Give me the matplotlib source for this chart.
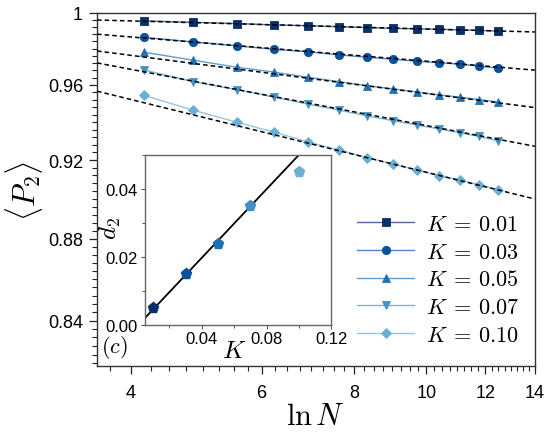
import matplotlib
matplotlib.use("Agg")
import matplotlib.pyplot as plt
import matplotlib.colors as mcolors
import numpy as np
from matplotlib.ticker import FixedLocator, FuncFormatter, NullFormatter

plt.rcParams['font.family'] = ['Liberation Sans', 'DejaVu Sans']
plt.rcParams['mathtext.fontset'] = 'cm'

# ln N of the simulated sizes
ln_n = [4.16, 4.85, 5.55, 6.24, 6.93, 7.62, 8.32, 9.01, 9.70, 10.40, 11.09, 11.78, 12.48]

k_values = [0.01, 0.03, 0.05, 0.07, 0.10]
k_labels = ['0.01', '0.03', '0.05', '0.07', '0.10']

p2_k001 = [0.9955, 0.9947, 0.9940, 0.9932, 0.9928, 0.9922, 0.9917, 0.9913, 0.9910, 0.9908, 0.9904, 0.9902, 0.9897]
p2_k003 = [0.9863, 0.9837, 0.9815, 0.9796, 0.9782, 0.9765, 0.9752, 0.9741, 0.9730, 0.9722, 0.9714, 0.9703, 0.9692]
p2_k005 = [0.9780, 0.9736, 0.9697, 0.9670, 0.9642, 0.9618, 0.9596, 0.9579, 0.9562, 0.9546, 0.9534, 0.9521, 0.9508]
p2_k007 = [0.9682, 0.9618, 0.9575, 0.9534, 0.9496, 0.9465, 0.9433, 0.9408, 0.9385, 0.9364, 0.9344, 0.9324, 0.9301]
p2_k010 = [0.9544, 0.9464, 0.9400, 0.9346, 0.9295, 0.9253, 0.9213, 0.9179, 0.9149, 0.9119, 0.9097, 0.9072, 0.9047]
p2_all = [p2_k001, p2_k003, p2_k005, p2_k007, p2_k010]

# power-law fits <P2> = A (ln N)^(-d2)
fit_amp = [1.0024, 1.0072, 1.0087, 1.0164, 1.0134]
d2 = [0.0050, 0.0150, 0.0236, 0.0348, 0.0450]

# linear fit of d2 vs K (inset)
d2_slope = 0.506
d2_icpt = -0.0006

colors = ['#08306b', '#08519c', '#2171b5', '#4292c6', '#6baed6']
markers = ['s', 'o', '^', 'v', 'D']
msizes = [5.5, 6, 6, 6, 5]


def lighten(c, f=0.7):
    r, g, b = mcolors.to_rgb(c)
    return (r * f + (1 - f), g * f + (1 - f), b * f + (1 - f))


fig = plt.figure(figsize=(5.48, 4.35), dpi=100)
ax = fig.add_axes([0.177, 0.156, 0.799, 0.812])

ax.set_xscale('log')
ax.set_yscale('log')
ax.set_xlim(3.6, 14)
ax.set_ylim(0.8186, 1.0)

x_fit = np.geomspace(3.6, 14, 60)
for i in range(5):
    ax.plot(ln_n, p2_all[i], color=lighten(colors[i]), lw=1.0,
            marker=markers[i], ms=msizes[i], mfc=colors[i], mec=colors[i],
            mew=0.6, label=r'$K\:=\:%s$' % k_labels[i], zorder=2)
    ax.plot(x_fit, fit_amp[i] * x_fit ** (-d2[i]), color='black', lw=1.1,
            dashes=(3, 2), zorder=3)

ax.xaxis.set_major_locator(FixedLocator([4, 6, 8, 10, 12, 14]))
ax.xaxis.set_minor_locator(FixedLocator(np.arange(3.75, 14.01, 0.25)))
ax.xaxis.set_major_formatter(FuncFormatter(lambda v, p: '%d' % round(v)))
ax.xaxis.set_minor_formatter(NullFormatter())

ax.yaxis.set_major_locator(FixedLocator([0.84, 0.88, 0.92, 0.96, 1.0]))
ax.yaxis.set_minor_locator(FixedLocator(np.arange(0.82, 1.0001, 0.004)))
ax.yaxis.set_major_formatter(FuncFormatter(lambda v, p: '1' if v > 0.999 else '%.2f' % v))
ax.yaxis.set_minor_formatter(NullFormatter())

ax.tick_params(which='both', direction='out', top=False, right=False, labelsize=13, color='#222222')
ax.tick_params(which='major', length=6, width=0.9, pad=4)
ax.tick_params(which='minor', length=3.5, width=0.8)
ax.tick_params(axis='x', which='major', pad=7)
for s in ax.spines.values():
    s.set_color('#333333')
    s.set_linewidth(1.0)

ax.set_xlabel(r'$\ln N$', fontsize=22, labelpad=0)
ax.set_ylabel(r'$\langle P_2 \rangle$', fontsize=22, labelpad=2)

ax.legend(loc='lower right', bbox_to_anchor=(0.995, 0.02), frameon=False, fontsize=16,
          handlelength=2.6, handletextpad=0.5, labelspacing=0.3, borderaxespad=0.2)

# inset: d2 versus K
axi = fig.add_axes([0.2646, 0.2517, 0.3403, 0.3903])
k_line = np.array([0.005, 0.12])
axi.plot(k_line, d2_slope * k_line + d2_icpt, color='black', lw=1.3, zorder=2)
for i in range(5):
    axi.plot(k_values[i], d2[i], marker='p', ms=8, color=colors[i], ls='none', zorder=3)
axi.set_xlim(0.005, 0.12)
axi.set_ylim(0.0, 0.05)
axi.set_xticks([0.04, 0.08, 0.12])
axi.set_xticks([0.02, 0.06, 0.10], minor=True)
axi.set_xticklabels(['0.04', '0.08', '0.12'])
axi.set_yticks([0.0, 0.02, 0.04])
axi.set_yticks([0.01, 0.03, 0.05], minor=True)
axi.set_yticklabels(['0.00', '0.02', '0.04'])
axi.tick_params(which='both', direction='out', labelsize=12, color='#555555')
axi.tick_params(which='major', length=3, width=0.8, pad=2)
axi.tick_params(which='minor', length=2, width=0.7)
for s in axi.spines.values():
    s.set_color('#666666')
    s.set_linewidth(1.0)
axi.set_xlabel(r'$K$', fontsize=18)
axi.xaxis.set_label_coords(0.48, -0.08)
axi.set_ylabel(r'$d_2$', fontsize=18)
axi.yaxis.set_label_coords(-0.12, 0.57)

fig.text(0.208, 0.202, r'$(c)$', fontsize=16, ha='center', va='center')

fig.savefig('out.png', dpi=100)
